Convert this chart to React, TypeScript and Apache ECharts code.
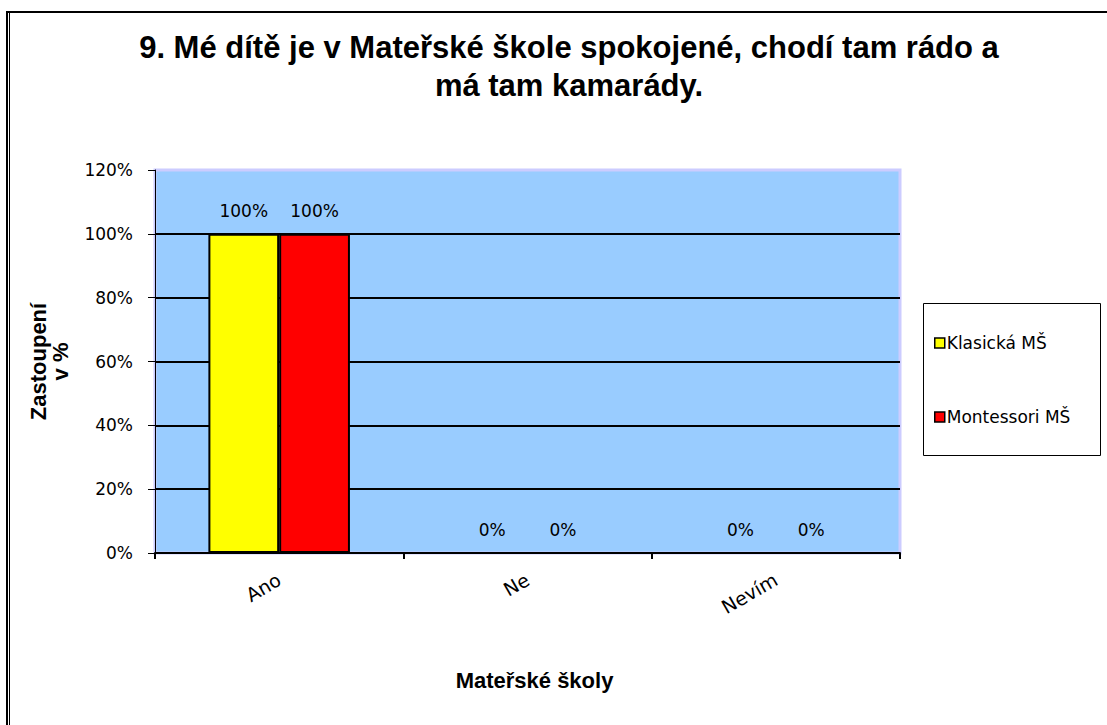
import React, { useEffect, useRef } from 'react';
import * as echarts from 'echarts';

const categories = ['Ano', 'Ne', 'Nevím'];
const seriesNames = ['Klasická MŠ', 'Montessori MŠ'];
const klasicka = [100, 0, 0];
const montessori = [100, 0, 0];
const seriesColors = ['#FFFF00', '#FF0000'];
const titleText = '9. Mé dítě je v Mateřské škole spokojené, chodí tam rádo a\nmá tam kamarády.';
const yAxisTitle = 'Zastoupení\nv %';
const xAxisTitle = 'Mateřské školy';

export default function App() {
  const ref = useRef<HTMLDivElement>(null);
  useEffect(() => {
    const chart = echarts.init(ref.current!, null, { renderer: 'svg' });
    const regular = 'DejaVu Sans';
    const bold = '"Liberation Sans", Arial, sans-serif';
    const label = {
      show: true,
      position: 'top',
      distance: 14,
      formatter: '{c}%',
      color: '#000',
      fontFamily: regular,
      fontSize: 17,
    };
    const values = [klasicka, montessori];
    chart.setOption({
      animation: false,
      backgroundColor: '#ffffff',
      title: {
        text: titleText,
        left: 569,
        top: 28,
        textAlign: 'center',
        padding: 0,
        textStyle: { fontFamily: bold, fontWeight: 'bold', fontSize: 31, lineHeight: 38, color: '#000' },
      },
      graphic: [
        { type: 'line', shape: { x1: 6, y1: 12, x2: 1107, y2: 12 }, style: { stroke: '#000', lineWidth: 2 }, z: 10 },
        { type: 'line', shape: { x1: 7, y1: 11, x2: 7, y2: 725 }, style: { stroke: '#000', lineWidth: 2 }, z: 10 },
        { type: 'line', shape: { x1: 9.5, y1: 13, x2: 9.5, y2: 725 }, style: { stroke: '#000', lineWidth: 1 }, z: 10 },
        { type: 'rect', shape: { x: 923.5, y: 303.5, width: 177, height: 152 }, style: { fill: '#fff', stroke: '#000', lineWidth: 1 }, z: 1 },
      ],
      legend: {
        orient: 'vertical',
        left: 934,
        top: 333,
        itemGap: 54,
        itemWidth: 10,
        itemHeight: 10,
        padding: 0,
        icon: 'rect',
        data: seriesNames,
        itemStyle: { borderColor: '#000', borderWidth: 1.5 },
        textStyle: { fontFamily: regular, fontSize: 17, lineHeight: 20, color: '#000', padding: [0, 0, 0, -3] },
        z: 5,
      },
      grid: {
        left: 155,
        top: 170,
        right: 207,
        bottom: 172,
        show: true,
        backgroundColor: '#99CCFF',
        borderColor: '#CCCCFF',
        borderWidth: 3,
      },
      xAxis: {
        type: 'category',
        data: categories,
        name: xAxisTitle,
        nameLocation: 'middle',
        nameGap: 116,
        nameTextStyle: { fontFamily: bold, fontWeight: 'bold', fontSize: 22, color: '#000', padding: [0, 0, 0, 14] },
        axisLine: { show: true, lineStyle: { color: '#000', width: 2 } },
        axisTick: { show: true, length: 6, lineStyle: { color: '#000', width: 2 } },
        axisLabel: { rotate: 30, margin: 25, fontFamily: regular, fontSize: 19, color: '#000' },
      },
      yAxis: {
        type: 'value',
        min: 0,
        max: 120,
        interval: 20,
        name: yAxisTitle,
        nameLocation: 'middle',
        nameGap: 84,
        nameRotate: 90,
        nameTextStyle: { fontFamily: bold, fontWeight: 'bold', fontSize: 22, lineHeight: 22, color: '#000' },
        axisLine: { show: true, lineStyle: { color: '#000', width: 1 } },
        axisTick: { show: true, length: 7, lineStyle: { color: '#000', width: 1 } },
        axisLabel: { formatter: '{value}%', margin: 22, fontFamily: regular, fontSize: 17, color: '#000' },
        splitLine: { show: true, showMaxLine: false, lineStyle: { color: '#000', width: 2 } },
      },
      series: seriesNames.map((name, i) => ({
        name,
        type: 'bar',
        data: values[i],
        barGap: '0%',
        barCategoryGap: '43%',
        itemStyle: { color: seriesColors[i], borderColor: '#000', borderWidth: 2 },
        label,
      })),
    });
    return () => chart.dispose();
  }, []);
  return (
    <div
      ref={ref}
      style={{ position: 'fixed', left: 0, top: 0, width: 1107, height: 725 }}
    />
  );
}
